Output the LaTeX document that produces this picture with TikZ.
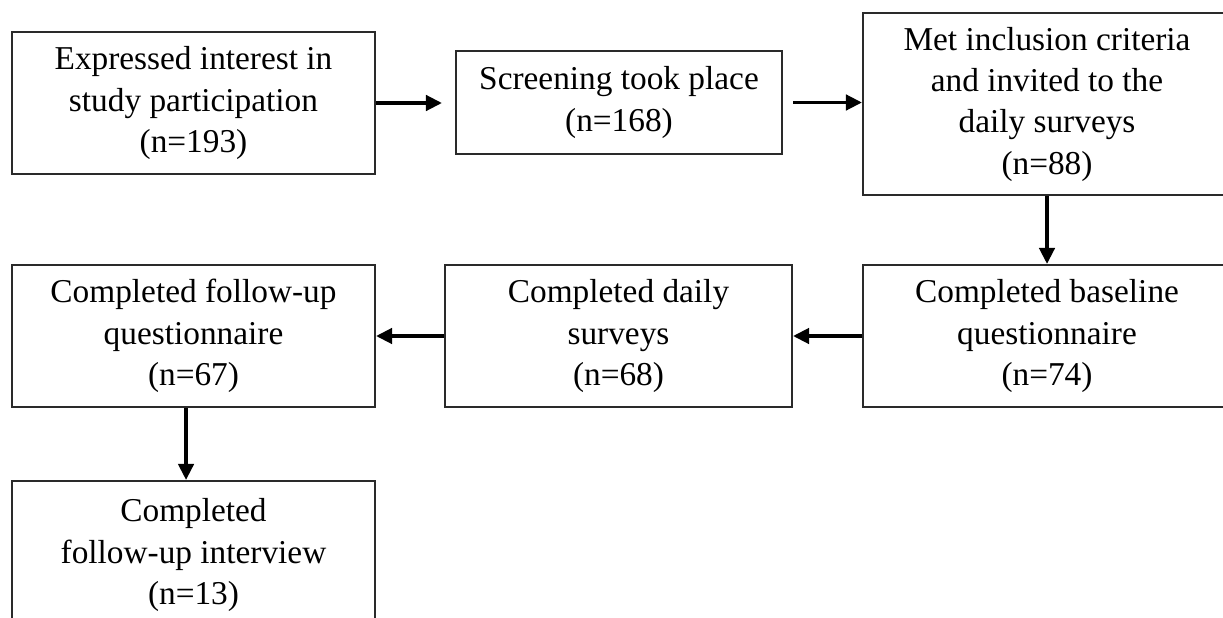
\documentclass[tikz,border=0pt]{standalone}
\usepackage{fontspec}
\setmainfont{Liberation Serif}
\usetikzlibrary{arrows.meta,positioning}
\definecolor{fcInk}{HTML}{000000}
\definecolor{fcEdge}{HTML}{2A2A2A}
\tikzset{
  stage/.style = {draw=fcEdge, line width=1.6pt, align=center, inner sep=0pt,
                  text=fcInk, font=\fontsize{25}{31}\selectfont},
  flow/.style  = {line width=2.6pt, color=fcInk,
                  -{Triangle[length=12pt,width=11.5pt]}},
}

\begin{document}
\begin{tikzpicture}[x=0.75pt, y=-0.75pt]

% dimensions (1 unit = 1 px of the page)
\def\px{0.75pt}
\useasboundingbox (0,0) rectangle (1223,617);
\clip (0,0) rectangle (1223,617);

% --- top row ---
\node[stage, minimum width={363*\px}, minimum height={142*\px}] (expr) at (193.5,103)
  {Expressed interest in\\study participation\\(n=193)};
\node[stage, minimum width={326*\px}, minimum height={103*\px}] (screen) at (619,102.5)
  {Screening took place\\(n=168)};
\node[stage, minimum width={368*\px}, minimum height={182*\px}] (incl) at (1047,104)
  {Met inclusion criteria\\and invited to the\\daily surveys\\(n=88)};

% --- middle row ---
\node[stage, minimum width={368*\px}, minimum height={142*\px}] (base) at (1047,336)
  {Completed baseline\\questionnaire\\(n=74)};
\node[stage, minimum width={347*\px}, minimum height={142*\px}] (daily) at (618.5,336)
  {Completed daily\\surveys\\(n=68)};
\node[stage, minimum width={363*\px}, minimum height={142*\px}] (fuq) at (193.5,336)
  {Completed follow-up\\questionnaire\\(n=67)};

% --- bottom row (runs off the page) ---
\node[stage, minimum width={363*\px}, minimum height={148*\px}] (fui) at (193.5,555)
  {Completed\\follow-up interview\\(n=13)};

% --- flow ---
\draw[flow, shorten >=9.75pt] (expr.east) -- (expr.east -| screen.west);
\draw[flow, shorten <=7.5pt] (screen.east) -- (screen.east -| incl.west);
\draw[flow] (incl.south) -- (base.north);
\draw[flow] (base.west) -- (daily.east);
\draw[flow] (daily.west) -- (fuq.east);
\draw[flow] ([xshift=-5.6pt]fuq.south) -- ([xshift=-5.6pt]fui.north);

\end{tikzpicture}
\end{document}
